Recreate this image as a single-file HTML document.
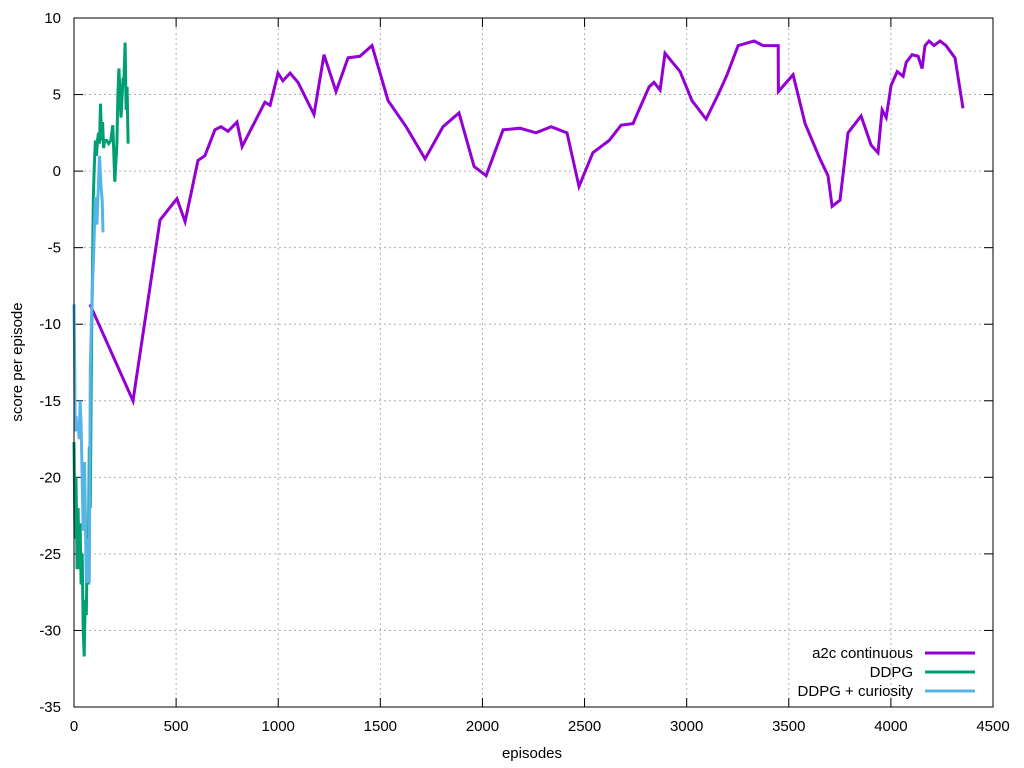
<!DOCTYPE html>
<html><head><meta charset="utf-8"><style>
html,body{margin:0;padding:0;background:#fff;}
svg{display:block;font-family:"Liberation Sans",Arial,sans-serif;}
</style></head><body>
<svg id="chart" width="1024" height="768" viewBox="0 0 1024 768"></svg>
<script>
const xTicks=[0,500,1000,1500,2000,2500,3000,3500,4000,4500];
const yTicks=[10,5,0,-5,-10,-15,-20,-25,-30,-35];
const a2cEp=[78,289,421,504,544,607,641,690,720,754,798,823,935,960,999,1023,1058,1097,1175,1224,1283,1342,1400,1459,1538,1626,1719,1807,1885,1959,2018,2101,2184,2262,2336,2414,2473,2541,2620,2679,2737,2816,2840,2870,2894,2968,3026,3095,3154,3198,3252,3330,3374,3448,3449,3521,3580,3653,3692,3712,3751,3790,3854,3903,3937,3957,3977,4001,4031,4060,4075,4104,4133,4153,4167,4187,4211,4241,4270,4314,4353];
const a2cVal=[-8.7,-15,-3.2,-1.8,-3.3,0.7,1,2.7,2.9,2.6,3.2,1.6,4.5,4.3,6.4,5.9,6.4,5.8,3.7,7.6,5.2,7.4,7.5,8.2,4.6,2.9,0.8,2.9,3.8,0.3,-0.3,2.7,2.8,2.5,2.9,2.5,-1.0,1.2,2.0,3.0,3.1,5.5,5.8,5.3,7.7,6.5,4.6,3.4,5.0,6.3,8.2,8.5,8.2,8.2,5.2,6.3,3.1,0.8,-0.3,-2.3,-1.9,2.5,3.6,1.7,1.2,4.0,3.5,5.6,6.5,6.2,7.1,7.6,7.5,6.7,8.2,8.5,8.2,8.5,8.2,7.4,4.1];
const ddpgEp=[0,5,10,15,20,25,30,35,40,45,50,55,60,65,70,75,80,85,90,95,100,105,110,115,120,125,130,135,140,145,150,160,170,180,190,200,210,215,220,230,240,245,250,255,260,265];
const ddpgVal=[-17.7,-24,-20,-26,-22,-26,-23,-27,-25,-30,-31.7,-28,-29,-24,-27,-18,-22,-12,-7,-1.5,0.5,2,1,2,2.5,1.8,4.4,2,3.2,1.5,2,2,1.8,2,3,-0.7,1.8,5,6.7,3.5,6,6,8.4,4,5.5,1.8];
const curEp=[0,3,6,10,15,20,25,30,35,45,52,60,68,75,80,88,95,105,112,125,132,138,142];
const curVal=[-8.7,-12,-17,-16,-17,-16.5,-17.5,-15,-16.5,-23.5,-19,-26.9,-24,-26.9,-12.9,-8.3,-5.9,-1.7,-3.5,1.0,-1,-1.9,-4];
const seriesNames=["a2c continuous","DDPG","DDPG + curiosity"];

const L=74,R=993,T=18,B=707;
const X=v=>L+(v-0)/4500*(R-L);
const Y=v=>T+(10-v)/45*(B-T);
const svg=document.getElementById('chart');
const NS='http://www.w3.org/2000/svg';
function mk(tag,attrs,parent){const e=document.createElementNS(NS,tag);for(const k in attrs)e.setAttribute(k,attrs[k]);(parent||svg).appendChild(e);return e;}

const grid=mk('g',{});


xTicks.forEach(t=>{
  if(t>0&&t<4500){const l=mk('line',{x1:X(t),x2:X(t),y1:T,y2:B,stroke:'#b0b0b0','stroke-dasharray':'2,3','stroke-width':1},grid);
  
  }
  const tk=mk('line',{x1:X(t),x2:X(t),y1:B,y2:B-9,stroke:'#000'});
  
  
  const tk2=mk('line',{x1:X(t),x2:X(t),y1:T,y2:T+9,stroke:'#000'});
  
  
  const tx=mk('text',{x:X(t),y:731,'text-anchor':'middle','font-size':15,fill:'#000'});
  tx.textContent=t;
  
  
});
yTicks.forEach(t=>{
  if(t<10&&t>-35){const l=mk('line',{x1:L,x2:R,y1:Y(t),y2:Y(t),stroke:'#b0b0b0','stroke-dasharray':'2,3','stroke-width':1},grid);
  
  }
  const tk=mk('line',{x1:L,x2:L+9,y1:Y(t),y2:Y(t),stroke:'#000'});
  
  
  const tk2=mk('line',{x1:R,x2:R-9,y1:Y(t),y2:Y(t),stroke:'#000'});
  
  
  const tx=mk('text',{x:61,y:Y(t)+5,'text-anchor':'end','font-size':15,fill:'#000'});
  tx.textContent=t;
  
  
});

function series(ep,val,color,name){
  const d=ep.map((e,i)=>(i?'L':'M')+X(e).toFixed(1)+','+Y(val[i]).toFixed(1)).join('');
  const p=mk('path',{d:d,fill:'none',stroke:color,'stroke-width':3,'stroke-linejoin':'miter'});
  
  
}
series(a2cEp,a2cVal,'#9400d3','a2c-continuous-line');
series(ddpgEp,ddpgVal,'#009e73','ddpg-line');
series(curEp,curVal,'#56b4e9','ddpg-curiosity-line');

const frame=mk('rect',{x:L,y:T,width:R-L,height:B-T,fill:'none',stroke:'#000','stroke-width':1});



const colors=['#9400d3','#009e73','#56b4e9'];
const rows=[653,672,691];
seriesNames.forEach((n,i)=>{
  const g=mk('g',{});
  
  
  const t=mk('text',{x:913,y:rows[i]+5,'text-anchor':'end','font-size':15,fill:'#000'},g);
  t.textContent=n;
  mk('line',{x1:925,x2:975,y1:rows[i],y2:rows[i],stroke:colors[i],'stroke-width':3},g);
});

const xt=mk('text',{x:532,y:758,'text-anchor':'middle','font-size':15,fill:'#000'});
xt.textContent='episodes';


const yt=mk('text',{x:0,y:0,'text-anchor':'middle','font-size':15,fill:'#000',transform:'translate(22,362) rotate(-90)'});
yt.textContent='score per episode';


</script>
</body></html>
